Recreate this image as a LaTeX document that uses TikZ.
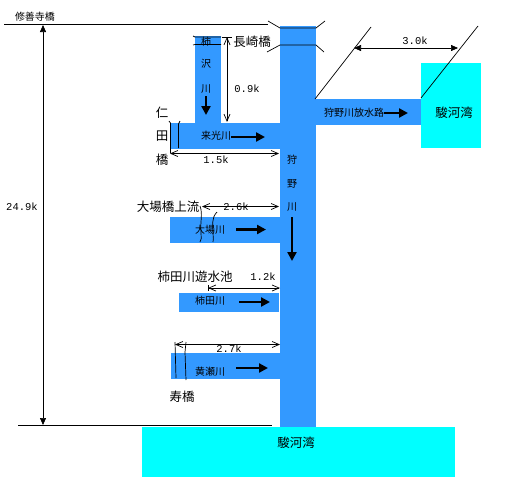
\documentclass[tikz,border=0pt]{standalone}
\usepackage{fontspec}
\setmainfont{Noto Sans CJK JP}
\newfontfamily\monof{Liberation Mono}
\usetikzlibrary{arrows.meta}
\definecolor{river}{RGB}{51,153,255}
\definecolor{bay}{RGB}{0,255,255}
\tikzset{x=1pt,y=-1pt,
  water/.style={fill=river,draw=none},
  sea/.style={fill=bay,draw=none},
  thin line/.style={draw=black,line width=0.7pt},
  flow/.style={draw=black,line width=2.8pt,-{Triangle[length=9pt,width=9pt]}},
  dimsolid/.style={thin line,{Triangle[length=7pt,width=6pt]}-{Triangle[length=7pt,width=6pt]}},
  dimopen/.style={thin line,{Straight Barb[length=7pt,width=6pt]}-{Straight Barb[length=7pt,width=6pt]}},
  big/.style={font=\fontsize{12.5}{13}\selectfont,inner sep=0pt},
  small/.style={font=\fontsize{10}{11}\selectfont,inner sep=0pt},
  num/.style={font=\monof\fontsize{10.5}{11}\selectfont,inner sep=0pt},
}
\begin{document}
\begin{tikzpicture}
\useasboundingbox (0,0) rectangle (506,496);
\fill[white] (0,0) rectangle (506,496);
% water
\fill[sea] (421,63) rectangle (481,148);
\fill[sea] (142,427) rectangle (455,477);
\fill[water] (280,26) rectangle (316,427);
\fill[water] (195,36) rectangle (221,124);
\fill[water] (170,123) rectangle (280,149);
\fill[water] (316,99) rectangle (421,125);
\fill[water] (170,217) rectangle (280,243);
\fill[water] (179,293) rectangle (279,312);
\fill[water] (171,353) rectangle (280,379);
% top and bottom reference lines
\coordinate (topL) at (4,24.5); \coordinate (topR) at (268,24.5);
\coordinate (botL) at (18,425); \coordinate (botR) at (272,425);
\draw[thin line] (topL) -- (topR);
\draw[thin line] (botL) -- (botR);
\coordinate (dimT) at (43,25); \coordinate (dimB) at (43,425);
\draw[dimsolid] (dimT) -- (dimB);
% Nagasaki bridge
\draw[thin line] (268,21) -- (280,28) -- (316,28) -- (325,21);
\draw[thin line] (267,52) -- (280,45) -- (316,45) -- (324,52);
% stub bridge
\draw[thin line] (193,36) -- (195,37) -- (221,37);
\draw[thin line] (193,45) -- (195,44.5) -- (221,44.5);
% 0.9k
\coordinate (a1) at (227,37); \coordinate (a2) at (227,122);
\draw[dimopen] (a1) -- (a2);
\draw[thin line] (222,37) -- (232,37);
% Nitta bridge
\draw[thin line] (169,121) -- (170.5,123) -- (170.5,153);
\draw[thin line] (180,121) -- (178.5,124) -- (178.5,148);
\coordinate (b1) at (170,153.5); \coordinate (b2) at (279,153.5);
\draw[dimopen] (b1) -- (b2);
% 3.0k
\draw[thin line] (315,99) -- (371,27);
\draw[thin line] (421,98) -- (478,26);
\coordinate (c1) at (354,48); \coordinate (c2) at (458,48);
\draw[dimsolid] (c1) -- (c2);
% Oba
\coordinate (d1) at (202,206.5); \coordinate (d2) at (279,206.5);
\draw[dimopen] (d1) -- (d2);
\draw[thin line] (200,206) .. controls (203,214) and (200,222) .. (201,232) .. controls (201,238) and (202,240) .. (200,242);
\draw[thin line] (217,212) .. controls (211,218) and (213,226) .. (213,232) .. controls (213,238) and (214,240) .. (213,242);
% Kakita
\coordinate (e1) at (208,288); \coordinate (e2) at (280,288);
\draw[dimopen] (e1) -- (e2);
\draw[thin line] (208,285) -- (208,291);
% Kise
\coordinate (f1) at (175,344.5); \coordinate (f2) at (280,344.5);
\draw[dimopen] (f1) -- (f2);
\draw[thin line] (175,342) -- (176,378);
\draw[thin line] (186,342) -- (185,352) -- (186,380);
% flow arrows
\draw[flow] (206,96) -- (206,115);
\draw[flow] (231,137) -- (265,137);
\draw[flow] (384,113) -- (408,113);
\draw[flow] (292,217) -- (292,261);
\draw[flow] (236,229.5) -- (266,229.5);
\draw[flow] (239,302) -- (270,302);
\draw[flow] (236,368) -- (268,368);
% labels
\node[small] (n1) at (35,17) {修善寺橋};
\node[big] (n2) at (252,42) {長崎橋};
\node[small] (n3) at (206,42) {柿};
\node[small] (n4) at (206,64) {沢};
\node[small] (n5) at (206,89) {川};
\node[num] (n6) at (247,89) {0.9k};
\node[big] (n7) at (162,113) {仁};
\node[big] (n8) at (162,136) {田};
\node[big] (n9) at (162,160) {橋};
\node[small] (n10) at (216,136) {来光川};
\node[num] (n11) at (216,160) {1.5k};
\node[num] (n12) at (415,41) {3.0k};
\node[small] (n13) at (354,113) {狩野川放水路};
\node[big] (n14) at (454,113) {駿河湾};
\node[small] (n15) at (292,160) {狩};
\node[small] (n16) at (292,184) {野};
\node[small] (n17) at (292,207) {川};
\node[num] (n18) at (22,207) {24.9k};
\node[big] (n19) at (168,207) {大場橋上流};
\node[num] (n20) at (236,207) {2.6k};
\node[small] (n21) at (210,230) {大場川};
\node[big] (n22) at (195,277) {柿田川遊水池};
\node[num] (n23) at (263,277) {1.2k};
\node[small] (n24) at (210,301) {柿田川};
\node[num] (n25) at (229,349) {2.7k};
\node[small] (n26) at (210,372) {黄瀬川};
\node[big] (n27) at (182,397) {寿橋};
\node[big] (n28) at (296,443) {駿河湾};
\end{tikzpicture}
\end{document}
